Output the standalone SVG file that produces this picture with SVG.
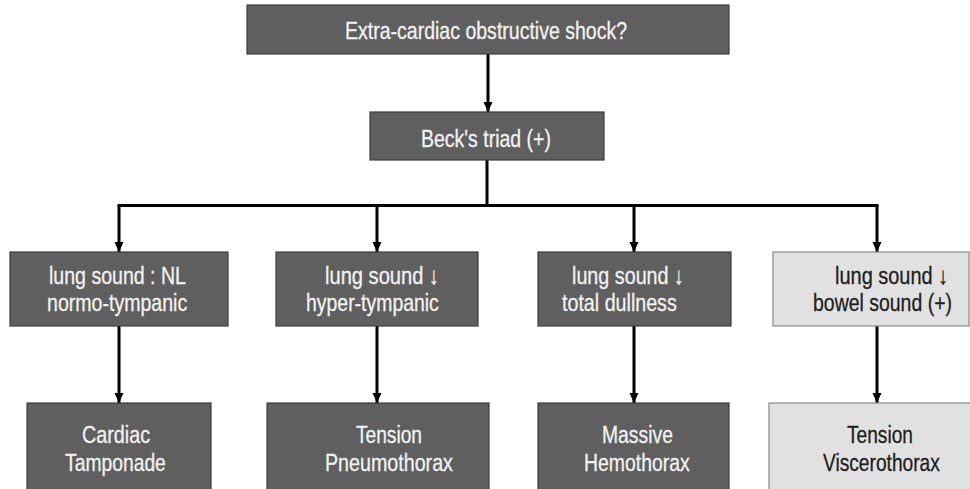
<svg xmlns="http://www.w3.org/2000/svg" width="970" height="489" viewBox="0 0 970 489">
<defs>
<style>
.dark{fill:#5f5f5f;stroke:#3c3c3c;stroke-width:1.2}
.light{fill:#e1e1e1;stroke:#8a8a8a;stroke-width:1.2}
.tw,.tk{font-family:"Liberation Sans","DejaVu Sans",Arial,sans-serif;font-size:24px;stroke-width:0.3}
.tw{fill:#f2f2f2;stroke:#f2f2f2}
.tk{fill:#1e1e1e;stroke:#1e1e1e}
.c{fill:none;stroke:#000;stroke-width:3}
</style>
<marker id="ah" markerUnits="userSpaceOnUse" markerWidth="10" markerHeight="10" refX="10" refY="5" orient="auto">
<path d="M0,0.5 L10,5 L0,9.5 z" fill="#000"/>
</marker>
</defs>
<rect width="970" height="489" fill="#fff"/>
<g id="connectors">
<path class="c" d="M488,54 V112" marker-end="url(#ah)"/>
<path class="c" d="M487,160 V205.5"/>
<path class="c" d="M119,205.5 H877" stroke-linecap="square"/>
<path class="c" d="M119,205.5 V252" marker-end="url(#ah)"/>
<path class="c" d="M377,205.5 V252" marker-end="url(#ah)"/>
<path class="c" d="M634,205.5 V252" marker-end="url(#ah)"/>
<path class="c" d="M877,205.5 V252" marker-end="url(#ah)"/>
<path class="c" d="M119,326 V403" marker-end="url(#ah)"/>
<path class="c" d="M377,326 V403" marker-end="url(#ah)"/>
<path class="c" d="M634,326 V403" marker-end="url(#ah)"/>
<path class="c" d="M877,326 V403" marker-end="url(#ah)"/>
</g>
<g id="n-top">
<rect class="dark" x="247" y="5" width="482" height="49"/>
<text class="tw" transform="translate(345,39) scale(0.82,1)" textLength="344" lengthAdjust="spacingAndGlyphs">Extra-cardiac obstructive shock?</text>
</g>
<g id="n-beck">
<rect class="dark" x="370" y="112" width="234" height="48"/>
<text class="tw" transform="translate(421,147) scale(0.82,1)" textLength="158.5" lengthAdjust="spacingAndGlyphs">Beck's triad (+)</text>
</g>
<g id="n-l2-1">
<rect class="dark" x="10" y="252" width="218" height="74"/>
<text class="tw" transform="translate(49,284) scale(0.82,1)" textLength="167" lengthAdjust="spacingAndGlyphs">lung sound : NL</text>
<text class="tw" transform="translate(47,311) scale(0.82,1)" textLength="171" lengthAdjust="spacingAndGlyphs">normo-tympanic</text>
</g>
<g id="n-l2-2">
<rect class="dark" x="276" y="252" width="202" height="74"/>
<text class="tw" transform="translate(325,284) scale(0.82,1)" textLength="139" lengthAdjust="spacingAndGlyphs">lung sound ↓</text>
<text class="tw" transform="translate(306,311) scale(0.82,1)" textLength="162" lengthAdjust="spacingAndGlyphs">hyper-tympanic</text>
</g>
<g id="n-l2-3">
<rect class="dark" x="538" y="252" width="193" height="74"/>
<text class="tw" transform="translate(572,284) scale(0.82,1)" textLength="136.5" lengthAdjust="spacingAndGlyphs">lung sound ↓</text>
<text class="tw" transform="translate(562,311) scale(0.82,1)" textLength="140" lengthAdjust="spacingAndGlyphs">total dullness</text>
</g>
<g id="n-l2-4">
<rect class="light" x="773" y="252" width="196" height="74"/>
<text class="tk" transform="translate(835,284) scale(0.82,1)" textLength="138" lengthAdjust="spacingAndGlyphs">lung sound ↓</text>
<text class="tk" transform="translate(813,311) scale(0.82,1)" textLength="169.5" lengthAdjust="spacingAndGlyphs">bowel sound (+)</text>
</g>
<g id="n-l3-1">
<rect class="dark" x="27" y="403" width="184" height="95"/>
<text class="tw" transform="translate(82,443) scale(0.82,1)" textLength="83" lengthAdjust="spacingAndGlyphs">Cardiac</text>
<text class="tw" transform="translate(65,471) scale(0.82,1)" textLength="123" lengthAdjust="spacingAndGlyphs">Tamponade</text>
</g>
<g id="n-l3-2">
<rect class="dark" x="267" y="403" width="222" height="95"/>
<text class="tw" transform="translate(356,443) scale(0.82,1)" textLength="80.5" lengthAdjust="spacingAndGlyphs">Tension</text>
<text class="tw" transform="translate(325,471) scale(0.82,1)" textLength="156" lengthAdjust="spacingAndGlyphs">Pneumothorax</text>
</g>
<g id="n-l3-3">
<rect class="dark" x="538" y="403" width="191" height="95"/>
<text class="tw" transform="translate(602,443) scale(0.82,1)" textLength="86.5" lengthAdjust="spacingAndGlyphs">Massive</text>
<text class="tw" transform="translate(584,471) scale(0.82,1)" textLength="129" lengthAdjust="spacingAndGlyphs">Hemothorax</text>
</g>
<g id="n-l3-4">
<rect class="light" x="769" y="403" width="210" height="95"/>
<text class="tk" transform="translate(847,443) scale(0.82,1)" textLength="80.5" lengthAdjust="spacingAndGlyphs">Tension</text>
<text class="tk" transform="translate(823,471) scale(0.82,1)" textLength="142.5" lengthAdjust="spacingAndGlyphs">Viscerothorax</text>
</g>
</svg>
